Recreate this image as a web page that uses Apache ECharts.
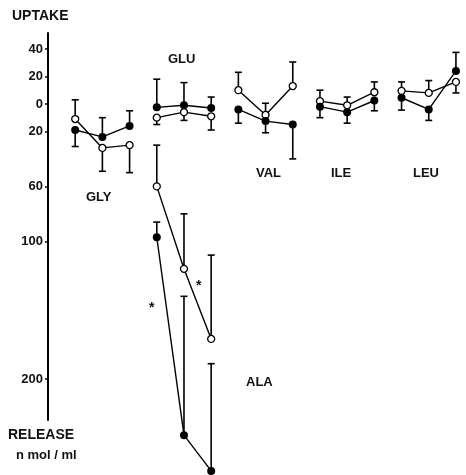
<!DOCTYPE html>
<html>
<head>
<meta charset="utf-8">
<script src="https://cdn.jsdelivr.net/npm/echarts@6.0.0/dist/echarts.min.js"></script>
<style>
  html, body { margin: 0; padding: 0; background: #fff; }
  #chart { width: 466px; height: 475px; }
</style>
</head>
<body>
<div id="chart"></div>
<script>
// uptake positive, release negative (nmol/ml)
const amino = ['GLY', 'GLU', 'ALA', 'VAL', 'ILE', 'LEU'];
const startX = [0, 3, 3, 6, 9, 12];

// open circles: mean and end of error bar
const openMean = [[-11, -32, -30], [-10, -6, -9], [-60, -120, -171], [10, -8, 13], [2, -1, 8.5], [9.5, 8, 16]];
const openErrEnd = [[3, -49, -50], [-15, -12, -19], [-30, -80, -110], [23, 0.5, 30.5], [10, 5, 16], [16, 17, 8]];

// filled circles: mean and end of error bar
const filledMean = [[-19, -24, -16], [-2.5, -1, -3], [-97, -241, -267], [-4, -12.5, -15], [-2, -6, 2.5], [4.5, -4, 24]];
const filledErrEnd = [[-31, -10, -5], [18, 15.5, 5], [-86, -140, -189], [-14, -21, -40], [-10, -14, -5], [-4.5, -12, 37.5]];

const yTicks = [40, 20, 0, -20, -60, -100, -200];

// px per unit ~1.375, zero at y=104
const Y_MAX = 51.6;
const AXIS_MIN = -229.8;
const DATA_MIN = -270;
const PX = 1.375;
const TOP = 33;

function lineData(means) {
  const out = [];
  means.forEach((g, gi) => {
    g.forEach((v, i) => out.push([startX[gi] + i, v]));
    out.push([null, null]);
  });
  return out;
}
function barData(means, ends) {
  const out = [];
  means.forEach((g, gi) => {
    g.forEach((v, i) => out.push([startX[gi] + i, v, ends[gi][i]]));
  });
  return out;
}

function renderBar(params, api) {
  const x = api.value(0);
  const p0 = api.coord([x, api.value(1)]);
  const p1 = api.coord([x, api.value(2)]);
  const st = { stroke: '#000', lineWidth: 1.6 };
  return {
    type: 'group',
    children: [
      { type: 'line', shape: { x1: p0[0], y1: p0[1], x2: p1[0], y2: p1[1] }, style: st },
      { type: 'line', shape: { x1: p1[0] - 3.5, y1: p1[1], x2: p1[0] + 3.5, y2: p1[1] }, style: st }
    ]
  };
}

const chart = echarts.init(document.getElementById('chart'));
const txt = (text, x, y, size) => ({
  type: 'text', x, y,
  style: { text, fill: '#111', font: `bold ${size || 13}px "Liberation Sans", sans-serif`, textAlign: 'left', textVerticalAlign: 'middle' }
});

chart.setOption({
  animation: false,
  grid: [
    { left: 48, width: 418, top: TOP, height: (Y_MAX - DATA_MIN) * PX },
    { left: 48, width: 418, top: TOP, height: (Y_MAX - AXIS_MIN) * PX }
  ],
  xAxis: [
    { gridIndex: 0, type: 'value', min: -1, max: 14.37, show: false },
    { gridIndex: 1, type: 'value', min: -1, max: 14.37, show: false }
  ],
  yAxis: [
    { gridIndex: 0, type: 'value', min: DATA_MIN, max: Y_MAX, show: false },
    {
      gridIndex: 1, type: 'value', min: AXIS_MIN, max: Y_MAX,
      splitLine: { show: false },
      axisLine: { show: true, onZero: false, lineStyle: { color: '#000', width: 2 } },
      axisTick: { show: true, length: 3, customValues: yTicks, lineStyle: { color: '#000', width: 1.5 } },
      axisLabel: {
        customValues: yTicks, margin: 5, color: '#111',
        fontFamily: 'Liberation Sans', fontWeight: 'bold', fontSize: 13,
        formatter: (v) => String(Math.abs(v))
      }
    }
  ],
  series: [
    { type: 'custom', renderItem: renderBar, data: barData(openMean, openErrEnd), z: 2, clip: false },
    { type: 'custom', renderItem: renderBar, data: barData(filledMean, filledErrEnd), z: 2, clip: false },
    {
      type: 'line', data: lineData(openMean), connectNulls: false, z: 3, clip: false,
      symbol: 'circle', symbolSize: 7,
      lineStyle: { color: '#000', width: 1.4 },
      itemStyle: { color: '#fff', borderColor: '#000', borderWidth: 1.3 }
    },
    {
      type: 'line', data: lineData(filledMean), connectNulls: false, z: 3, clip: false,
      symbol: 'circle', symbolSize: 8,
      lineStyle: { color: '#000', width: 1.4 },
      itemStyle: { color: '#000' }
    }
  ],
  graphic: [
    txt('UPTAKE', 12, 16, 14),
    txt('RELEASE', 8, 435, 14),
    txt('n mol / ml', 16, 455, 13),
    txt('GLY', 86, 197),
    txt('GLU', 168, 59),
    txt('ALA', 246, 382),
    txt('VAL', 256, 173),
    txt('ILE', 331, 173),
    txt('LEU', 413, 173),
    txt('*', 149, 308, 14),
    txt('*', 196, 286, 14)
  ]
});
</script>
</body>
</html>
